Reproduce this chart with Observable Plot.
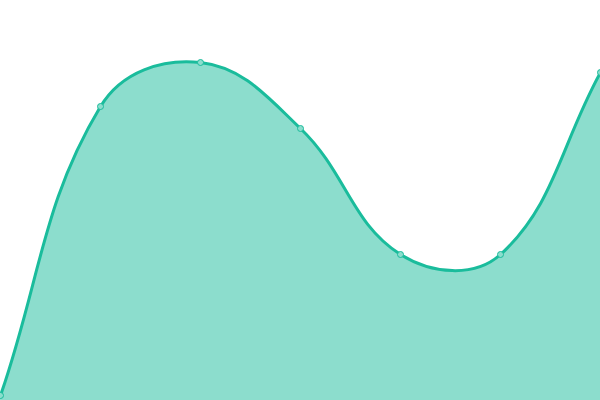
<!DOCTYPE html>
<html><head><meta charset="utf-8">
<script src="https://cdn.jsdelivr.net/npm/d3@7"></script>
<script src="https://cdn.jsdelivr.net/npm/@observablehq/plot@0.6"></script>
<style>html,body{margin:0;padding:0;background:#fff;overflow:hidden}</style>
</head><body><div id="chart"></div>
<script>
const xs = [0, 1, 2, 3, 4, 5, 6];
const values = [5, 294, 338, 272, 146, 146, 328];
const data = xs.map((x, i) => ({x, y: values[i]}));

// tension-based spline (control points from neighbour distances), computed in pixel space
function splineCurve(context) {
  const t = 0.4;
  return {
    _line: NaN, _pts: null,
    areaStart() { this._line = 0; },
    areaEnd() { this._line = NaN; },
    lineStart() { this._pts = []; },
    point(x, y) { this._pts.push([+x, +y]); },
    lineEnd() {
      const p = this._pts, n = p.length;
      if (n) {
        if (this._line) context.lineTo(p[0][0], p[0][1]);
        else context.moveTo(p[0][0], p[0][1]);
        const cps = p.map((cur, i) => {
          const prev = p[i - 1] || cur, next = p[i + 1] || cur;
          const d01 = Math.hypot(cur[0] - prev[0], cur[1] - prev[1]);
          const d12 = Math.hypot(next[0] - cur[0], next[1] - cur[1]);
          let s01 = d01 / (d01 + d12), s12 = d12 / (d01 + d12);
          if (!isFinite(s01)) s01 = 0;
          if (!isFinite(s12)) s12 = 0;
          const fa = t * s01, fb = t * s12;
          return {
            prev: [cur[0] - fa * (next[0] - prev[0]), cur[1] - fa * (next[1] - prev[1])],
            next: [cur[0] + fb * (next[0] - prev[0]), cur[1] + fb * (next[1] - prev[1])]
          };
        });
        for (let i = 1; i < n; i++) {
          const a = cps[i - 1].next, b = cps[i].prev;
          context.bezierCurveTo(a[0], a[1], b[0], b[1], p[i][0], p[i][1]);
        }
      }
      if (this._line || (this._line !== 0 && n === 1)) context.closePath();
      this._line = 1 - this._line;
    }
  };
}

const chart = Plot.plot({
  width: 600, height: 400, margin: 0,
  x: {domain: [0, 6], axis: null},
  y: {domain: [0, 400], axis: null},
  marks: [
    Plot.areaY(data, {x: "x", y: "y", curve: splineCurve, fill: "#1abc9c", fillOpacity: 0.5}),
    Plot.lineY(data, {x: "x", y: "y", curve: splineCurve, stroke: "#1abc9c", strokeWidth: 3}),
    Plot.dot(data, {x: "x", y: "y", r: 3, fill: "#8cddcd", stroke: "#1abc9c", strokeWidth: 1})
  ]
});
document.getElementById("chart").appendChild(chart);
</script></body></html>
